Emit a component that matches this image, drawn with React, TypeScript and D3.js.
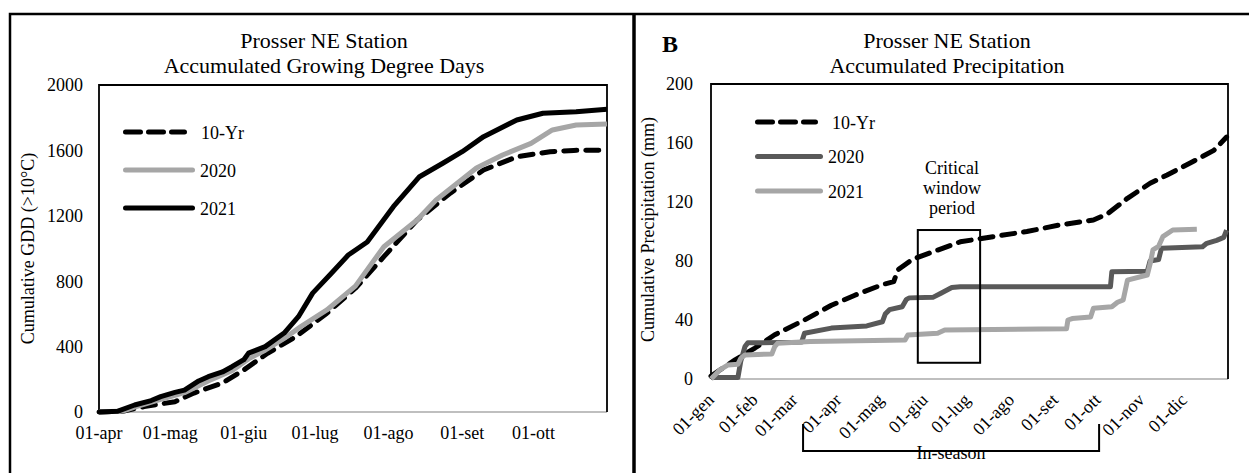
import React from 'react';
import * as d3 from 'd3';

const monthNames = ['gen', 'feb', 'mar', 'apr', 'mag', 'giu', 'lug', 'ago', 'set', 'ott', 'nov', 'dic'];

// Panel A: accumulated GDD, days counted from 1 April
const gddDays10Yr = [0, 10, 19, 32, 40, 52, 61, 71, 83, 96, 108, 120, 134, 148, 162, 176, 190, 200, 214];
const gdd10Yr = [0, 5, 33, 63, 116, 177, 257, 359, 461, 604, 757, 950, 1174, 1339, 1480, 1561, 1592, 1600, 1602];
const gddDays2020 = [0, 10, 15, 26, 36, 46, 56, 63, 70, 78, 85, 96, 108, 120, 134, 142, 159, 170, 182, 191, 201, 214];
const gdd2020 = [0, 6, 30, 78, 118, 190, 252, 325, 378, 450, 522, 624, 770, 1011, 1174, 1297, 1492, 1572, 1643, 1725, 1755, 1761];
const gddDays2021 = [0, 8, 15, 22, 26, 32, 36, 42, 46, 52, 56, 61, 63, 70, 78, 84, 90, 98, 105, 113, 124, 135, 145, 153, 162, 176, 187, 201, 214];
const gdd2021 = [0, 5, 43, 70, 94, 120, 134, 190, 216, 245, 277, 320, 360, 400, 483, 583, 727, 850, 960, 1040, 1256, 1439, 1523, 1592, 1684, 1786, 1827, 1837, 1851];
const gddTicks = [0, 400, 800, 1200, 1600, 2000];

// Panel B: accumulated precipitation (mm), days counted from 1 January
const rainDays10Yr = [0, 17, 31, 45, 66, 85, 102, 121, 129, 132, 142, 156, 176, 199, 223, 246, 270, 280, 294, 310, 322, 340, 355, 364];
const rain10Yr = [2, 13, 21, 30, 40, 50, 57, 64, 66, 74, 81, 86, 93, 96.5, 100, 104.4, 107.8, 112, 122.5, 132.7, 138.3, 147.3, 155, 164];
const rainDays2020 = [0, 19, 21, 24, 26, 64, 66, 85, 110, 121, 123, 126, 135, 138, 140, 157, 162, 170, 176, 282, 283, 308, 310, 316, 318, 347, 350, 357, 362, 364];
const rain2020 = [1, 1, 12, 22, 24.5, 25, 31, 34.5, 36, 38.8, 44, 47, 49, 54, 55, 55.5, 58, 62, 62.6, 62.6, 72.7, 73, 80, 81, 88.6, 89.7, 92, 94, 96, 101];
const rainDays2021 = [0, 6, 12, 19, 21, 24, 43, 45, 47, 70, 137, 139, 160, 165, 251, 252, 255, 268, 270, 283, 287, 291, 294, 308, 310, 312, 316, 319, 326, 343];
const rain2021 = [0, 6, 9.5, 10, 14, 16.3, 17, 22, 24.2, 25.5, 26.4, 29.8, 31, 33.2, 34, 40, 41, 42, 48, 49, 52, 53.6, 67, 70.5, 78, 87.5, 90, 96.5, 101, 101.5];
const rainTicks = [0, 40, 80, 120, 160, 200];

// annotations on panel B
const criticalWindow = { start: 146, end: 190, low: 11, high: 101 };
const inSeason = { start: 65, end: 274 };
const criticalLabel = ['Critical', 'window', 'period'];

const FONT = '"Liberation Serif", "Times New Roman", serif';
const LIGHT = '#a6a6a6';
const DARK = '#595959';

const addDays = (base: Date, n: number) => d3.timeDay.offset(base, n);
const pairs = (days: number[], vals: number[]) => days.map((d, i) => [d, vals[i]] as [number, number]);

type Series = { name: string; days: number[]; vals: number[]; color: string; dashed: boolean };

const Legend = ({ x, y, step, series, len }: { x: number; y: number; step: number; series: Series[]; len: number[] }) => (
  <g>
    {series.map((s, i) => (
      <g key={s.name} transform={`translate(${x},${y + i * step})`}>
        <line x1={2.5} x2={len[i] - 2.5} y1={0} y2={0} stroke={s.color} strokeWidth={5}
          strokeLinecap="round" strokeDasharray={s.dashed ? '15 8' : undefined} />
        <text x={len[i] + (s.dashed ? 14 : 5)} y={6.5} fontSize={18}>{s.name}</text>
      </g>
    ))}
  </g>
);

const PanelA = () => {
  const start = new Date(2021, 3, 1);
  const x = d3.scaleTime().domain([start, new Date(2021, 10, 1)]).range([99, 607]);
  const y = d3.scaleLinear().domain([0, 2000]).range([412, 85]);
  const line = d3.line<[number, number]>().x(d => x(addDays(start, d[0]))).y(d => y(d[1]));
  const months = d3.timeMonth.range(start, new Date(2021, 10, 1));
  const series: Series[] = [
    { name: '10-Yr', days: gddDays10Yr, vals: gdd10Yr, color: '#000', dashed: true },
    { name: '2020', days: gddDays2020, vals: gdd2020, color: LIGHT, dashed: false },
    { name: '2021', days: gddDays2021, vals: gdd2021, color: '#000', dashed: false },
  ];
  const [x0, x1] = x.range();
  const [yb, yt] = y.range();
  return (
    <g>
      <text x={324} y={48} fontSize={22} textAnchor="middle">Prosser NE Station</text>
      <text x={324} y={73} fontSize={22} textAnchor="middle">Accumulated Growing Degree Days</text>
      <line x1={x0} x2={x1} y1={yb} y2={yb} stroke="#bfbfbf" strokeWidth={2} />
      <path d={`M${x0},${yb}V${yt}H${x1}V${yb}`} fill="none" stroke="#000" strokeWidth={1.8} />
      {gddTicks.map(t => (
        <text key={t} x={83} y={y(t)} dy="0.35em" fontSize={18} textAnchor="end">{t}</text>
      ))}
      {months.map(m => (
        <text key={+m} x={x(m)} y={439} fontSize={18} textAnchor="middle">{`01-${monthNames[m.getMonth()]}`}</text>
      ))}
      <text transform={`translate(34,${(yb + yt) / 2}) rotate(-90)`} fontSize={18} textAnchor="middle">Cumulative GDD (&gt;10°C)</text>
      {series.map(s => (
        <path key={s.name} d={line(pairs(s.days, s.vals)) || ''} fill="none" stroke={s.color} strokeWidth={5}
          strokeLinejoin="round" strokeDasharray={s.dashed ? '13 9' : undefined} strokeLinecap={s.dashed ? 'round' : 'butt'} />
      ))}
      <Legend x={123} y={132} step={38} series={series} len={[64, 72, 72]} />
    </g>
  );
};

const PanelB = () => {
  const start = new Date(2021, 0, 1);
  const end = new Date(2022, 0, 1);
  const x = d3.scaleTime().domain([start, end]).range([711, 1228]);
  const y = d3.scaleLinear().domain([0, 200]).range([379, 84]);
  const line = d3.line<[number, number]>().x(d => x(addDays(start, d[0]))).y(d => y(d[1]));
  const months = d3.timeMonth.range(start, end);
  const series: Series[] = [
    { name: '10-Yr', days: rainDays10Yr, vals: rain10Yr, color: '#000', dashed: true },
    { name: '2020', days: rainDays2020, vals: rain2020, color: DARK, dashed: false },
    { name: '2021', days: rainDays2021, vals: rain2021, color: LIGHT, dashed: false },
  ];
  const [x0, x1] = x.range();
  const [yb, yt] = y.range();
  const cw0 = x(addDays(start, criticalWindow.start));
  const cw1 = x(addDays(start, criticalWindow.end));
  const is0 = x(addDays(start, inSeason.start));
  const is1 = x(addDays(start, inSeason.end));
  return (
    <g>
      <text x={662} y={52} fontSize={24} fontWeight="bold">B</text>
      <text x={947} y={48} fontSize={22} textAnchor="middle">Prosser NE Station</text>
      <text x={947} y={73} fontSize={22} textAnchor="middle">Accumulated Precipitation</text>
      <line x1={x0} x2={x1} y1={yb} y2={yb} stroke="#bfbfbf" strokeWidth={2} />
      <path d={`M${x0},${yb}V${yt}H${x1}V${yb}`} fill="none" stroke="#000" strokeWidth={1.8} />
      {rainTicks.map(t => (
        <text key={t} x={693} y={y(t)} dy="0.35em" fontSize={18} textAnchor="end">{t}</text>
      ))}
      {months.map(m => (
        <text key={+m} transform={`translate(${x(m) + 4},401) rotate(-45)`} fontSize={18} textAnchor="end">
          {`01-${monthNames[m.getMonth()]}`}
        </text>
      ))}
      <text transform={`translate(654,${(yb + yt) / 2 - 2}) rotate(-90)`} fontSize={18} textAnchor="middle">Cumulative Precipitation (mm)</text>
      {series.map(s => (
        <path key={s.name} d={line(pairs(s.days, s.vals)) || ''} fill="none" stroke={s.color} strokeWidth={5}
          strokeLinejoin="round" strokeDasharray={s.dashed ? '13 9' : undefined} strokeLinecap={s.dashed ? 'round' : 'butt'} />
      ))}
      <rect x={cw0} y={y(criticalWindow.high)} width={cw1 - cw0} height={y(criticalWindow.low) - y(criticalWindow.high)}
        fill="none" stroke="#000" strokeWidth={2} />
      {criticalLabel.map((t, i) => (
        <text key={t} x={952} y={174 + i * 20} fontSize={18} textAnchor="middle">{t}</text>
      ))}
      <text x={(is0 + is1) / 2} y={459} fontSize={18} textAnchor="middle">In-season</text>
      <path d={`M${is0},424V451H${is1}V424`} fill="none" stroke="#000" strokeWidth={2} />
      <Legend x={755} y={122} step={34.5} series={series} len={[63, 68, 68]} />
    </g>
  );
};

export default function App() {
  return (
    <svg width={1249} height={473} style={{ position: 'absolute', left: 0, top: 0, background: '#fff' }}
      fontFamily={FONT}>
      <rect width={1249} height={473} fill="#fff" />
      <path d="M10,473V14H1249" fill="none" stroke="#000" strokeWidth={2.5} />
      <line x1={634} x2={634} y1={14} y2={473} stroke="#000" strokeWidth={3.5} />
      <PanelA />
      <PanelB />
    </svg>
  );
}
